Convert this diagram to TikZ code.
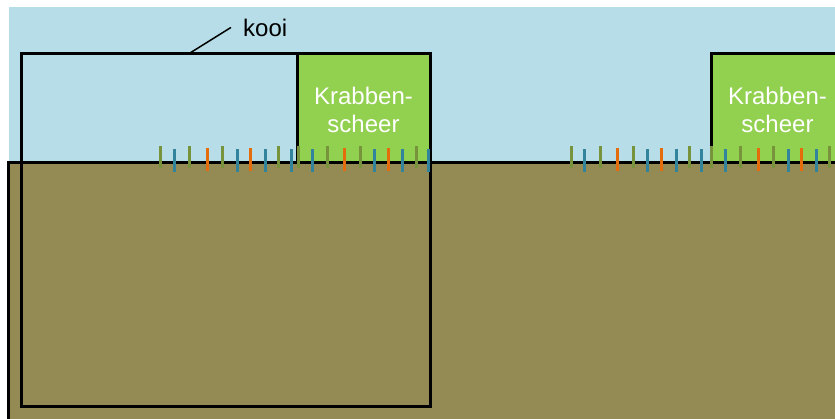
\documentclass[tikz,border=0pt]{standalone}
\usepackage{fontspec}
\setmainfont{Liberation Sans}
\definecolor{sky}{HTML}{B7DEE8}
\definecolor{ground}{HTML}{948A54}
\definecolor{scheer}{HTML}{92D050}
\definecolor{stg}{HTML}{77933C}
\definecolor{stb}{HTML}{31849B}
\definecolor{sto}{HTML}{E46C0A}
\tikzset{
  outline/.style={draw=black, line width=3pt},
  bigtext/.style={font=\fontsize{24}{28}\selectfont, inner sep=0pt, anchor=base},
  stalkg/.style={draw=stg, line width=3pt},
  stalkb/.style={draw=stb, line width=3pt},
  stalko/.style={draw=sto, line width=3pt},
}
\newcommand{\stalkG}[1]{\draw[stalkg] (#1,146) -- (#1,168);}
\newcommand{\stalkB}[1]{\draw[stalkb] (#1,149) -- (#1,172);}
\newcommand{\stalkO}[1]{\draw[stalko] (#1,148) -- (#1,171);}
\begin{document}
\begin{tikzpicture}[x=1pt,y=-1pt]
\useasboundingbox (0,0) rectangle (835,418);
\fill[white] (0,0) rectangle (835,418);
\clip (0,0) rectangle (835,418);
% sky
\fill[sky] (9,7) rectangle (845,162);
% ground
\draw[outline, fill=ground] (8,162) rectangle (845,430);
% krabbenscheer blocks
\draw[outline, fill=scheer] (297,53) rectangle (430,162);
\draw[outline, fill=scheer] (711,53) rectangle (844,162);
% kooi
\draw[outline] (21,53) rectangle (430,406);
% texts
\node[bigtext, text=white] (k1a) at (363.5,104) {Krabben-};
\node[bigtext, text=white] (k1b) at (363.5,132) {scheer};
\node[bigtext, text=white] (k2a) at (777.5,104) {Krabben-};
\node[bigtext, text=white] (k2b) at (777.5,132) {scheer};
% label
\node[bigtext, anchor=base west] (kooilabel) at (243,36) {kooi};
\coordinate (kooitop) at (190,53);
\draw[line width=1.5pt] (kooitop) -- ([xshift=-12pt]kooilabel.west);
% stalks left
\stalkG{160}\stalkB{174}\stalkG{189}\stalkO{207}\stalkG{222}\stalkB{237}\stalkO{250}\stalkB{265}\stalkG{278}\stalkB{291}
\stalkG{298}\stalkB{312}\stalkG{327}\stalkO{344}\stalkG{360}\stalkB{374}\stalkO{388}\stalkB{402}\stalkG{416}\stalkB{428}
% stalks right
\stalkG{571}\stalkB{584}\stalkG{600}\stalkO{617}\stalkG{633}\stalkB{647}\stalkO{661}\stalkB{676}\stalkG{689}\stalkB{701}
\stalkG{711}\stalkB{725}\stalkG{740}\stalkO{758}\stalkG{773}\stalkB{788}\stalkO{801}\stalkB{816}\stalkG{829}
\end{tikzpicture}
\end{document}
